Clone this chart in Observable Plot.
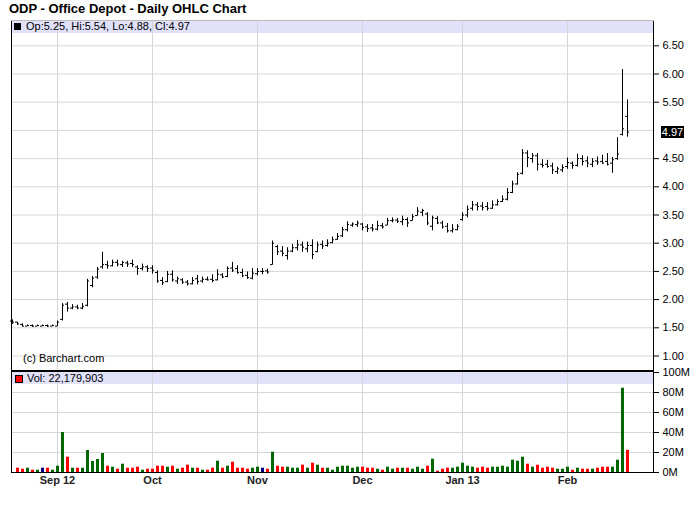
<!DOCTYPE html>
<html><head><meta charset="utf-8">
<script src="https://cdn.jsdelivr.net/npm/d3@7"></script>
<script src="https://cdn.jsdelivr.net/npm/@observablehq/plot@0.6"></script>
<style>
body{margin:0;background:#fff;}
#wrap{position:relative;width:700px;height:512px;font-family:"Liberation Sans",Arial,sans-serif;color:#000;overflow:hidden;background:#fff}
.abs{position:absolute}
#wrap svg{display:block;overflow:visible}
</style></head><body><div id="wrap"></div>
<script>
// ---- data (daily bars, Aug 21 2012 .. Feb 20 2013, indexed by trading day) ----
const monthIdx = [9, 28, 49, 70, 90, 111];
const monthLabels = ["Sep 12", "Oct", "Nov", "Dec", "Jan 13", "Feb"];
const priceTicks = [1, 1.5, 2, 2.5, 3, 3.5, 4, 4.5, 5, 5.5, 6, 6.5];
const volTicks = [0, 20, 40, 60, 80, 100];

const open = [1.62,1.60,1.56,1.53,1.54,1.53,1.53,1.54,1.53,1.53,
1.65,1.92,1.85,1.87,1.85,1.90,2.25,2.40,2.58,2.62,
2.60,2.66,2.62,2.65,2.64,2.58,2.55,2.58,2.56,2.48,
2.34,2.32,2.45,2.33,2.35,2.31,2.28,2.37,2.33,2.36,
2.36,2.35,2.44,2.41,2.56,2.55,2.48,2.43,2.38,2.46,
2.50,2.51,2.62,2.94,2.86,2.78,2.86,2.92,2.97,2.90,
2.96,2.85,2.98,2.96,3.01,3.07,3.13,3.24,3.32,3.33,
3.34,3.29,3.27,3.25,3.31,3.32,3.40,3.41,3.38,3.42,
3.40,3.49,3.55,3.52,3.30,3.44,3.36,3.30,3.22,3.24,
3.42,3.50,3.62,3.68,3.66,3.65,3.62,3.68,3.74,3.78,
3.90,4.05,4.24,4.60,4.50,4.55,4.40,4.40,4.37,4.27,
4.30,4.36,4.42,4.38,4.50,4.46,4.40,4.46,4.45,4.45,
4.42,4.50,4.93,5.25];
const high = [1.64,1.60,1.57,1.55,1.55,1.55,1.55,1.55,1.55,1.62,
1.93,1.95,1.91,1.90,1.93,2.36,2.41,2.57,2.84,2.68,
2.70,2.70,2.68,2.68,2.70,2.60,2.63,2.60,2.60,2.51,
2.39,2.50,2.51,2.40,2.37,2.34,2.39,2.43,2.40,2.40,
2.44,2.53,2.46,2.58,2.66,2.60,2.54,2.49,2.55,2.55,
2.55,2.54,3.04,2.96,2.94,2.92,2.98,3.05,3.02,3.02,
3.06,3.02,3.04,3.06,3.11,3.17,3.28,3.38,3.36,3.39,
3.35,3.33,3.33,3.39,3.35,3.44,3.45,3.44,3.48,3.45,
3.51,3.63,3.60,3.54,3.48,3.47,3.39,3.35,3.33,3.33,
3.54,3.66,3.74,3.72,3.72,3.72,3.75,3.77,3.84,3.97,
4.10,4.25,4.66,4.64,4.59,4.59,4.48,4.47,4.42,4.35,
4.39,4.51,4.44,4.58,4.55,4.53,4.50,4.53,4.56,4.59,
4.52,4.87,6.08,5.54];
const low = [1.56,1.54,1.52,1.52,1.51,1.52,1.52,1.51,1.52,1.52,
1.62,1.78,1.82,1.82,1.82,1.87,2.21,2.36,2.54,2.54,
2.58,2.58,2.57,2.57,2.57,2.43,2.51,2.48,2.45,2.29,
2.25,2.30,2.31,2.27,2.27,2.24,2.26,2.26,2.29,2.33,
2.30,2.33,2.37,2.39,2.48,2.45,2.39,2.36,2.35,2.42,
2.44,2.45,2.61,2.78,2.76,2.70,2.83,2.86,2.84,2.83,
2.71,2.83,2.89,2.93,2.99,3.05,3.10,3.20,3.28,3.28,
3.22,3.19,3.20,3.22,3.25,3.31,3.36,3.35,3.31,3.28,
3.39,3.48,3.47,3.31,3.22,3.33,3.25,3.18,3.18,3.22,
3.39,3.45,3.57,3.57,3.57,3.57,3.60,3.66,3.72,3.75,
3.88,4.03,4.21,4.34,4.42,4.28,4.33,4.33,4.22,4.22,
4.25,4.31,4.31,4.35,4.37,4.34,4.34,4.38,4.40,4.37,
4.24,4.47,4.90,4.88];
const close = [1.60,1.57,1.53,1.54,1.53,1.54,1.54,1.53,1.54,1.60,
1.90,1.85,1.87,1.85,1.88,2.33,2.38,2.54,2.62,2.60,
2.66,2.63,2.66,2.63,2.62,2.55,2.58,2.55,2.52,2.33,
2.30,2.45,2.35,2.37,2.31,2.28,2.34,2.32,2.36,2.35,
2.34,2.45,2.40,2.55,2.52,2.48,2.42,2.39,2.47,2.50,
2.50,2.49,3.00,2.85,2.82,2.86,2.92,2.97,2.93,2.96,
2.80,2.97,2.95,3.00,3.06,3.12,3.24,3.33,3.34,3.36,
3.28,3.26,3.25,3.31,3.29,3.40,3.41,3.39,3.42,3.36,
3.47,3.57,3.58,3.36,3.45,3.36,3.29,3.22,3.25,3.30,
3.50,3.60,3.68,3.65,3.63,3.62,3.68,3.74,3.78,3.90,
4.05,4.22,4.60,4.52,4.55,4.40,4.38,4.36,4.30,4.32,
4.34,4.43,4.38,4.50,4.45,4.42,4.45,4.44,4.42,4.40,
4.48,4.58,5.03,4.97];
// volume in millions of shares
const volume = [null,4.3,3.3,4.3,2.3,2.3,4.3,4.3,2.3,6.3,
40,15.3,4.3,4.3,4.3,22,11,13,19,6.3,
5.3,3.3,8.3,4.3,4.3,5.3,2.3,3.3,3.3,6.3,
6.3,5.3,6.3,3.3,4.3,7.3,4.3,4.3,2.3,2.3,
4.3,11.3,4.3,6.3,10.3,4.3,4.3,3.3,4.3,5.3,
4.3,3.3,20.3,6.3,5.3,5.3,4.3,4.3,7.3,4.3,
9.3,7.3,4.3,4.3,2.3,5.3,6.3,6.3,4.3,5.3,
5.3,4.3,4.3,3.3,2.3,5.3,3.3,4.3,4.3,4.3,
3.3,5.3,3.3,6.3,13.3,1.3,3.3,4.3,4.3,5.3,
9.3,6.3,5.3,4.3,5.3,4.3,5.3,5.3,6.3,5.3,
12.3,11.3,15.3,8.3,5.3,7.3,4.3,5.3,4.3,3.3,
3.3,5.3,2.3,4.3,3.3,3.3,3.3,4.3,5.3,5.3,
5.3,12.3,84.3,22.18];

const titleText = "ODP - Office Depot - Daily OHLC Chart";
const priceLegend = "Op:5.25, Hi:5.54, Lo:4.88, Cl:4.97";
const volLegend = "Vol: 22,179,903";
const credit = "(c) Barchart.com";

// ---- build ----
const bars = close.map((c, i) => ({
  i, open: open[i], high: high[i], low: low[i], close: c, vol: volume[i],
  dir: i === 0 ? "flat" : (c > close[i-1] ? "up" : c < close[i-1] ? "down" : "flat")
}));
const volColors = {up: "#006600", down: "#ff0000", flat: "#000080"};
const gridColor = "#d6d6d6";
const font = "Liberation Sans, Arial, sans-serif";
const xDom = [-0.2, 128.2];

const wrap = document.getElementById("wrap");
function div(css, text) {
  const d = document.createElement("div");
  d.className = "abs";
  d.style.cssText = css;
  if (text != null) d.textContent = text;
  wrap.appendChild(d);
  return d;
}

// title
div("left:9px;top:1px;font-weight:bold;font-size:13px;line-height:16px;white-space:nowrap;", titleText);
// legend bands (under the plots)
div("left:12px;top:20px;width:641px;height:13px;background:#e1e1fa;");
div("left:12px;top:372px;width:641px;height:12px;background:#e1e1fa;");

const price = Plot.plot({
  width: 700, height: 351,
  marginTop: 0, marginBottom: 0, marginLeft: 11, marginRight: 47,
  style: {background: "transparent", fontFamily: font, fontSize: "11px", color: "#000", overflow: "visible"},
  x: {domain: xDom, axis: null},
  y: {domain: [0.7252, 6.949], label: null},
  marks: [
    Plot.gridY(priceTicks, {stroke: gridColor, strokeOpacity: 1}),
    Plot.gridX(monthIdx, {stroke: gridColor, strokeOpacity: 1}),
    Plot.ruleX(bars, {x: "i", y1: "low", y2: "high", stroke: "#000"}),
    Plot.ruleY(bars, {y: "open", x1: d => d.i - 0.4, x2: "i", stroke: "#000"}),
    Plot.ruleY(bars, {y: "close", x1: "i", x2: d => d.i + 0.4, stroke: "#000"}),
    Plot.axisY(priceTicks.filter(t => t !== 5), {anchor: "right", label: null, tickFormat: d => d.toFixed(2), tickSize: 5, tickPadding: 4})
  ]
});
const pw = div("left:0;top:20px;");
pw.appendChild(price);

const vol = Plot.plot({
  width: 700, height: 140,
  marginTop: 11, marginBottom: 29, marginLeft: 11, marginRight: 47,
  style: {background: "transparent", fontFamily: font, fontSize: "11px", color: "#000", overflow: "visible"},
  x: {domain: xDom, axis: null, label: null},
  y: {domain: [0, 100], label: null},
  marks: [
    Plot.gridY([20, 40, 60, 80], {stroke: gridColor, strokeOpacity: 1}),
    Plot.gridX(monthIdx, {stroke: gridColor, strokeOpacity: 1}),
    Plot.rectY(bars.filter(d => d.vol != null), {x1: d => d.i - 0.2, x2: d => d.i + 0.4, y: "vol", fill: d => volColors[d.dir]}),
    Plot.axisY(volTicks, {anchor: "right", label: null, tickFormat: d => d + "M", tickSize: 5, tickPadding: 4}),
    Plot.axisX(monthIdx, {anchor: "bottom", label: null, tickFormat: d => monthLabels[monthIdx.indexOf(d)], tickSize: 0, tickPadding: 4, fontWeight: "bold", fill: "#222"})
  ]
});
const vw = div("left:0;top:361px;");
vw.appendChild(vol);

// frame lines
div("left:11px;top:20px;width:1px;height:453px;background:#000;");
div("left:653px;top:20px;width:1px;height:453px;background:#000;");
div("left:11px;top:370px;width:643px;height:2px;background:#000;");
div("left:11px;top:472px;width:643px;height:1px;background:#000;");
div("left:11px;top:20px;width:643px;height:1px;background:#bbb;");

// legend texts
div("left:14px;top:23px;width:7px;height:7px;background:#000;");
div("left:26px;top:20px;font-size:11px;line-height:13px;white-space:nowrap;", priceLegend);
div("left:15px;top:375px;width:6px;height:6px;background:#ff0000;border:1px solid #000;");
div("left:27px;top:372px;font-size:11px;line-height:12px;white-space:nowrap;", volLegend);
div("left:23px;top:352px;font-size:11px;line-height:13px;white-space:nowrap;", credit);

// last close marker on the price axis
const last = bars[bars.length - 1];
const ly = 20 + price.scale("y").apply(last.close);
div(`left:661px;top:${ly - 6}px;width:23px;height:12px;background:#000;color:#fff;font-size:11px;line-height:12px;text-align:center;`, last.close.toFixed(2));
</script></body></html>
